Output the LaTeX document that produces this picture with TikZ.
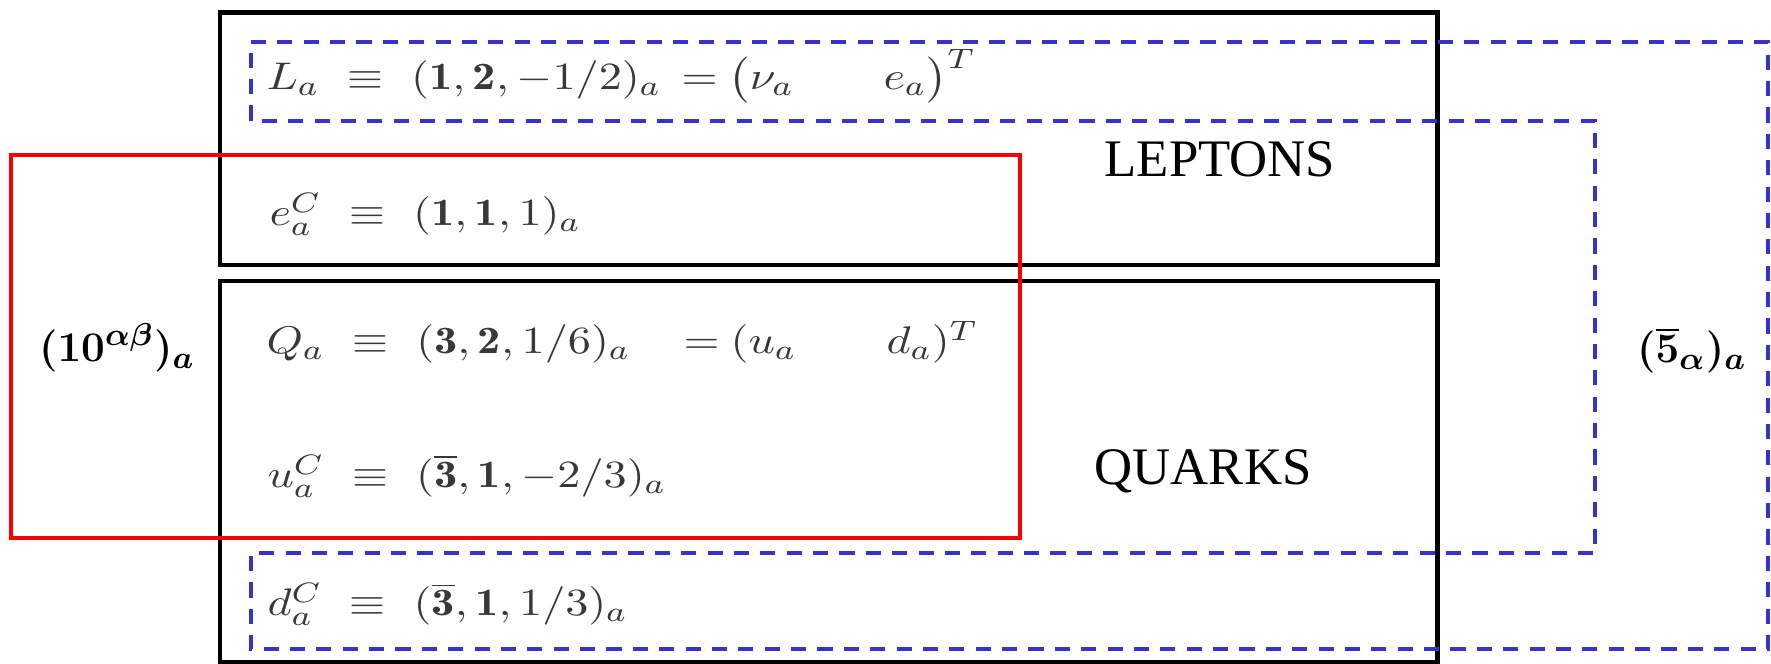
\documentclass[tikz,border=0pt]{standalone}
\usepackage{fontspec}
\usepackage{amsmath}
\newfontfamily\timesf{Liberation Serif}
\definecolor{dblue}{RGB}{52,52,205}
\newcommand\sxm[1]{\scalebox{1.2}[1]{$#1$}}
\newsavebox\tenbox
\newsavebox\fivebox
\begin{document}
\sbox\tenbox{\fontsize{13}{15}\selectfont\boldmath$(\mathbf{10}^{\alpha\beta})_a$}%
\sbox\fivebox{\fontsize{13}{15}\selectfont\boldmath$(\overline{\mathbf{5}}_{\alpha})_a$}%
\begin{tikzpicture}[x=0.01cm,y=-0.01cm,
  box/.style={draw=black,line width=1.42pt},
  redbox/.style={draw=red,line width=1.2pt},
  bluedash/.style={draw=dblue,line width=1.25pt,dash pattern=on 4.3pt off 3.2pt},
  mrow/.style={anchor=base west,inner sep=0pt,text=black!78,font=\fontsize{11}{13}\selectfont},
  sidelab/.style={anchor=base,inner sep=0pt,text=black!90},
  word/.style={anchor=base west,inner sep=0pt,font=\timesf\fontsize{15}{18}\selectfont}]
\useasboundingbox (0,0) rectangle (1771,664);
\fill[white] (0,0) rectangle (1771,664);
% black boxes
\draw[box] (220,13) rectangle (1437,265);
\draw[box] (220,281) rectangle (1437,662);
% red box
\draw[redbox] (11,155) rectangle (1020,538);
% blue dashed outline
\draw[bluedash] (251,42) -- (1768,42) -- (1768,649) -- (251,649) -- (251,553) -- (1595,553) -- (1595,121) -- (251,121) -- cycle;
% rows
\node[mrow] (r1l) at (266,90) {\sxm{L_a\ \equiv\ (\mathbf{1},\mathbf{2},-1/2)_a}};
\node[mrow] (r1eq) at (681,90) {\sxm{=}};
\node[mrow] (r1nu) at (728,90) {\sxm{\bigl(\nu_a}};
\node[mrow] (r1e) at (883,90) {\sxm{e_a\bigr)^T}};
\node[mrow] (r2l) at (269,226) {\sxm{e_a^C\ \equiv\ (\mathbf{1},\mathbf{1},1)_a}};
\node[mrow] (r3l) at (266,354) {\sxm{Q_a\ \equiv\ (\mathbf{3},\mathbf{2},1/6)_a}};
\node[mrow] (r3eq) at (683,354) {\sxm{=}};
\node[mrow] (r3u) at (730,354) {\sxm{(u_a}};
\node[mrow] (r3d) at (886,354) {\sxm{d_a)^T}};
\node[mrow] (r4l) at (267,488) {\sxm{u_a^C\ \equiv\ (\overline{\mathbf{3}},\mathbf{1},-2/3)_a}};
\node[mrow] (r5l) at (267,616) {\sxm{d_a^C\ \equiv\ (\overline{\mathbf{3}},\mathbf{1},1/3)_a}};
% side labels
\node[sidelab] (tenlab) at (117,362) {\usebox\tenbox};
\node[sidelab] (fivelab) at (1692,363) {\usebox\fivebox};
% words
\node[word] (lep) at (1104,177) {LEPTONS};
\node[word] (qua) at (1094,485) {QUARKS};
\end{tikzpicture}
\end{document}
